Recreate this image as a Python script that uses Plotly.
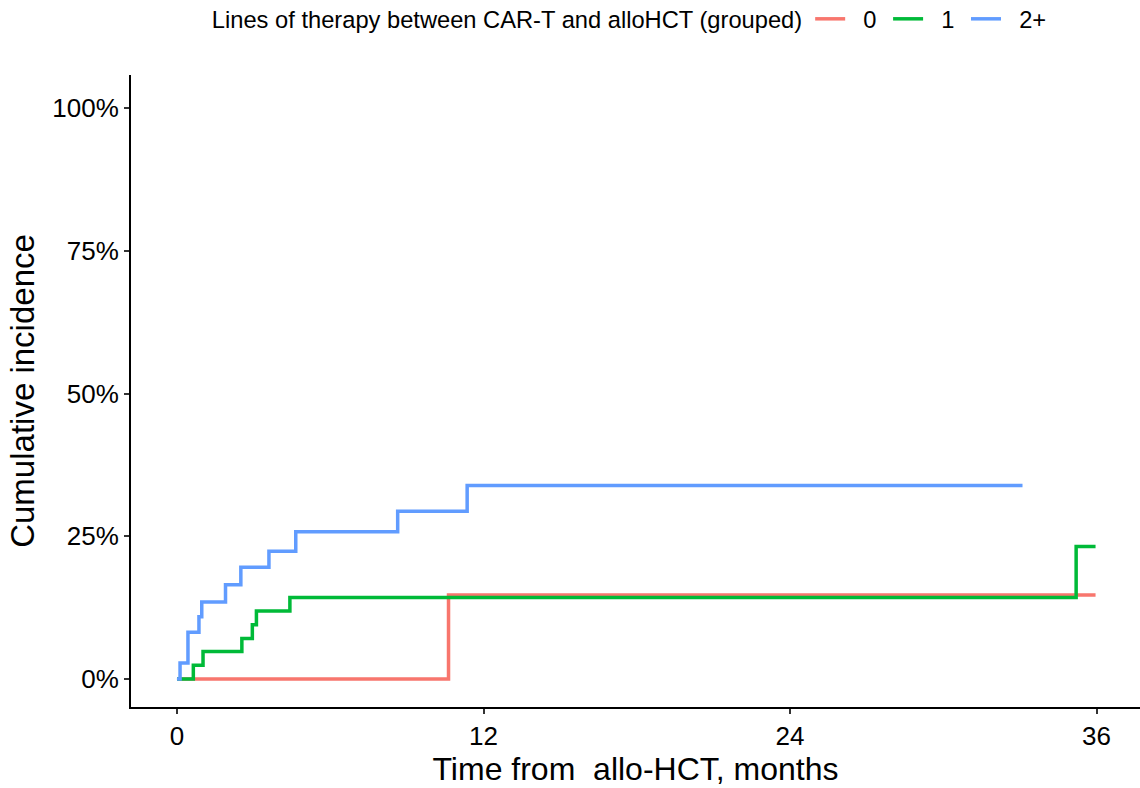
import plotly.graph_objects as go

# Data (months, cumulative incidence %)
red_t = [0, 10.63, 35.96]
red_y = [0, 14.7, 14.7]

green_t = [0, 0.64, 1.02, 2.54, 2.95, 3.11, 4.42, 35.2, 35.96]
green_y = [0, 2.4, 4.8, 7.1, 9.5, 11.9, 14.3, 23.2, 23.2]

blue_t = [0, 0.12, 0.43, 0.86, 0.97, 1.9, 2.5, 3.6, 4.65, 8.64, 11.36, 33.1]
blue_y = [0, 2.8, 8.2, 10.9, 13.5, 16.5, 19.6, 22.4, 25.8, 29.4, 33.9, 33.9]

groups = ["0", "1", "2+"]
colors = ["#F8766D", "#00BA38", "#619CFF"]
x_ticks = [0, 12, 24, 36]
y_ticks = [0, 25, 50, 75, 100]

NB = "\u00a0"

fig = go.Figure()
for name, t, y, c in zip(groups, [red_t, green_t, blue_t], [red_y, green_y, blue_y], colors):
    fig.add_trace(go.Scatter(x=t, y=y, mode="lines", name=NB * 2 + name + NB,
                             line=dict(color=c, width=3.5, shape="hv")))

fig.update_layout(
    width=1140, height=788,
    paper_bgcolor="white", plot_bgcolor="white",
    margin=dict(l=131, r=0, t=75, b=81),
    font=dict(family="Liberation Sans, Arial", color="black"),
    legend=dict(orientation="h", x=0.556, xanchor="center", xref="container",
                y=0.976, yanchor="middle", yref="container", itemwidth=30,
                title=dict(text="Lines of therapy between CAR-T and alloHCT (grouped)", side="left",
                           font=dict(size=23.7)),
                font=dict(size=23.7)),
    xaxis=dict(range=[-1.8, 37.7], tickvals=x_ticks, ticktext=[str(v) for v in x_ticks],
               showgrid=False, zeroline=False, showline=True, linecolor="black", linewidth=2,
               ticks="outside", ticklen=5, tickcolor="#333333", tickwidth=1.5,
               tickfont=dict(size=26), title=dict(text="Time from  allo-HCT, months", font=dict(size=32), standoff=4)),
    yaxis=dict(range=[-4.9, 105.8], tickvals=y_ticks, ticktext=[f"{v}%" for v in y_ticks],
               showgrid=False, zeroline=False, showline=True, linecolor="black", linewidth=2,
               ticks="outside", ticklen=5, tickcolor="#333333", tickwidth=1.5,
               tickfont=dict(size=26), title=dict(text="Cumulative incidence", font=dict(size=33), standoff=8)),
)
fig.write_html("out.html")
